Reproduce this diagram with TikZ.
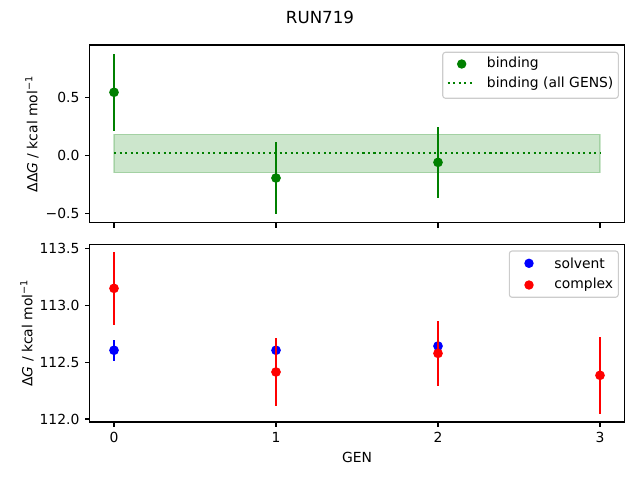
\documentclass[tikz,border=0pt]{standalone}
\usepackage{fontspec}
\setmainfont{DejaVu Sans}
\definecolor{mplgreen}{HTML}{008000}
\definecolor{mplblue}{HTML}{0000FF}
\definecolor{mplred}{HTML}{FF0000}
\begin{document}
\begin{tikzpicture}[x=0.72pt, y=-0.72pt, font=\fontsize{10}{12}\selectfont,
    bar/.style={line width=1.5pt},
    frame/.style={line width=0.8pt},
    legendbox/.style={draw=black!20, fill=white, fill opacity=0.8, rounded corners=2pt, line width=0.8pt}]
    \useasboundingbox (0,0) rectangle (640,480);
    \node (title) at (320,17) {\fontsize{12}{14}\selectfont RUN719};

    % top panel: binding
    \begin{scope}[shift={(114,155.5)}, x=116.64pt, y=83.52pt]
        \fill[mplgreen, fill opacity=0.2] (0,-0.148) rectangle (3,0.183);
        \draw[mplgreen, draw opacity=0.2, line width=1pt] (0,-0.148) rectangle (3,0.183);
        \draw[mplgreen, line width=1.5pt, dash pattern=on 1.5pt off 2.475pt] (0,0.0216) -- (3,0.0216);
        \foreach \x/\y/\e in {0/0.545/0.33, 1/-0.194/0.31, 2/-0.059/0.305} {
            \draw[mplgreen, bar] (\x,\y-\e) -- (\x,\y+\e);
            \fill[mplgreen] (\x,\y) circle (3.5pt);
        }
        \draw[frame] (-0.15,-0.579) rectangle (3.15,0.9526);
        \foreach \x in {0,...,3}
            \draw[frame] (\x,-0.579) -- ++(0pt,-3.5pt);
        \foreach \y/\t in {-0.5/−0.5, 0/0.0, 0.5/0.5}
            \draw[frame] (-0.15,\y) -- ++(-3.5pt,0pt) node[left=3.5pt, inner sep=0pt] {\t};
    \end{scope}
    \node[rotate=90] (toplabel) at (32,134) {ΔΔ\textit{G} / kcal mol\textsuperscript{−1}};

    % top legend
    \draw[legendbox] (442.7,52.3) rectangle (618.3,98.3);
    \fill[mplgreen] (461.7,64) circle (3.4pt);
    \node[right, inner sep=0pt] (bindtext) at (486.7,64) {binding};
    \draw[mplgreen, line width=1.5pt, dash pattern=on 1.5pt off 2.475pt] (447.7,83.3) -- (475,83.3);
    \node[right, inner sep=0pt] (alltext) at (486.7,83.3) {binding (all GENS)};

    % bottom panel: solvent and complex
    \begin{scope}[shift={(114,419)}, x=116.64pt, y=81.94pt]
        \foreach \x/\y/\e in {0/0.604/0.09, 1/0.604/0.06, 2/0.641/0.06} {
            \draw[mplblue, bar] (\x,\y-\e) -- (\x,\y+\e);
            \fill[mplblue] (\x,\y) circle (3.5pt);
        }
        \foreach \x/\y/\e in {0/1.148/0.32, 1/0.413/0.295, 2/0.577/0.285, 3/0.384/0.34} {
            \draw[mplred, bar] (\x,\y-\e) -- (\x,\y+\e);
            \fill[mplred] (\x,\y) circle (3.5pt);
        }
        \draw[frame] (-0.15,-0.026) rectangle (3.15,1.535);
        \foreach \x in {0,...,3}
            \draw[frame] (\x,-0.026) -- ++(0pt,-3.5pt) node[below=3.5pt, inner sep=0pt] {\x};
        \foreach \y/\t in {0/112.0, 0.5/112.5, 1/113.0, 1.5/113.5}
            \draw[frame] (-0.15,\y) -- ++(-3.5pt,0pt) node[left=3.5pt, inner sep=0pt] {\t};
    \end{scope}
    \node[rotate=90] (botlabel) at (27,333) {Δ\textit{G} / kcal mol\textsuperscript{−1}};
    \node (genlabel) at (357,457.7) {GEN};

    % bottom legend
    \draw[legendbox] (509.3,251) rectangle (618.3,297.3);
    \fill[mplblue] (529,263.3) circle (3.4pt);
    \node[right, inner sep=0pt] (solvtext) at (554,263.3) {solvent};
    \fill[mplred] (529,285) circle (3.4pt);
    \node[right, inner sep=0pt] (comptext) at (554,285) {complex};
\end{tikzpicture}
\end{document}
